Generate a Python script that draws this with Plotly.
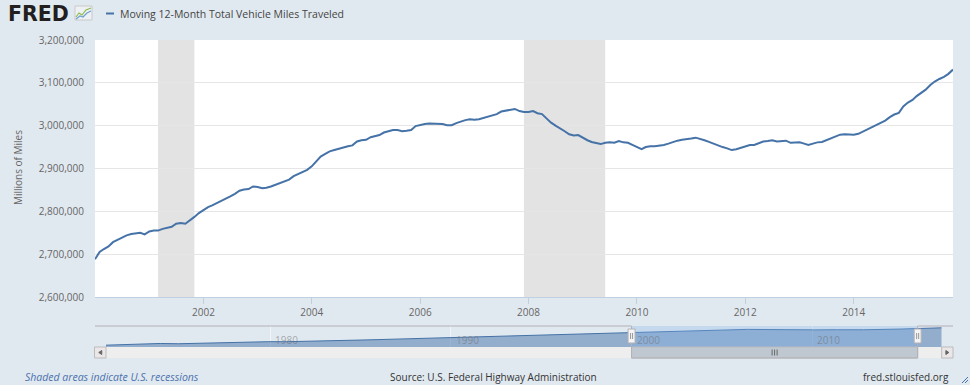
import plotly.graph_objects as go
import pandas as pd

# ---------------- data ----------------
series_start = "2000-01-01"
# Moving 12-month total vehicle miles traveled (millions of miles), monthly from Jan 2000
vmt = [
    2688000, 2705000, 2712000, 2718000, 2728000, 2733000, 2738000, 2744000, 2747000, 2749000, 2750000, 2746000,  # 2000
    2753000, 2755000, 2755000, 2759000, 2762000, 2764000, 2771000, 2773000, 2771000, 2778000, 2787000, 2796000,  # 2001
    2804000, 2810000, 2814000, 2819000, 2825000, 2830000, 2835000, 2841000, 2848000, 2851000, 2852000, 2858000,  # 2002
    2857000, 2854000, 2855000, 2858000, 2862000, 2867000, 2871000, 2874000, 2882000, 2887000, 2891000, 2897000,  # 2003
    2905000, 2916000, 2928000, 2934000, 2940000, 2943000, 2946000, 2950000, 2952000, 2954000, 2963000, 2966000,  # 2004
    2967000, 2973000, 2975000, 2978000, 2984000, 2988000, 2990000, 2990000, 2987000, 2988000, 2990000, 2999000,  # 2005
    3002000, 3004000, 3005000, 3005000, 3005000, 3004000, 3001000, 3001000, 3006000, 3010000, 3013000, 3015000,  # 2006
    3014000, 3015000, 3018000, 3021000, 3025000, 3027000, 3033000, 3035000, 3037000, 3039000, 3034000, 3032000,  # 2007
    3032000, 3034000, 3029000, 3027000, 3017000, 3007000, 3000000, 2994000, 2987000, 2980000, 2977000, 2978000,  # 2008
    2971000, 2966000, 2962000, 2959000, 2957000, 2960000, 2961000, 2960000, 2964000, 2961000, 2960000, 2955000,  # 2009
    2950000, 2945000, 2950000, 2952000, 2952000, 2953000, 2955000, 2958000, 2962000, 2965000, 2967000, 2968000,  # 2010
    2970000, 2972000, 2970000, 2966000, 2962000, 2958000, 2953000, 2950000, 2947000, 2943000, 2945000, 2948000,  # 2011
    2952000, 2955000, 2955000, 2959000, 2963000, 2964000, 2966000, 2963000, 2964000, 2965000, 2960000, 2961000,  # 2012
    2961000, 2958000, 2955000, 2958000, 2961000, 2962000, 2966000, 2970000, 2976000, 2979000, 2980000, 2979000,  # 2013
    2979000, 2981000, 2986000, 2990000, 2995000, 3001000, 3007000, 3012000, 3020000, 3026000, 3030000, 3045000,  # 2014
    3054000, 3060000, 3069000, 3077000, 3084000, 3095000, 3103000, 3109000, 3114000, 3121000, 3131000,           # 2015
]

# navigator history (December values), read roughly from the navigator strip
hist_years = [1970, 1971, 1972, 1973, 1974, 1975, 1976, 1977, 1978, 1979,
              1980, 1981, 1982, 1983, 1984, 1985, 1986, 1987, 1988, 1989,
              1990, 1991, 1992, 1993, 1994, 1995, 1996, 1997, 1998, 1999]
hist_vmt = [1110000, 1179000, 1260000, 1313000, 1281000, 1328000, 1402000, 1467000, 1545000, 1529000,
            1527000, 1555000, 1595000, 1653000, 1720000, 1774000, 1834000, 1921000, 2025000, 2096000,
            2144000, 2172000, 2247000, 2296000, 2358000, 2423000, 2486000, 2562000, 2632000, 2686000]
ext_dates = ["2015-12-01", "2016-06-01", "2016-12-01", "2017-03-01"]
ext_vmt = [3136000, 3170000, 3187000, 3194000]

rec_start = ["2001-03-01", "2007-12-01"]
rec_end = ["2001-11-01", "2009-06-01"]

y_ticks = [2600000, 2700000, 2800000, 2900000, 3000000, 3100000, 3200000]
x_tick_years = [2002, 2004, 2006, 2008, 2010, 2012, 2014]
nav_label_years = [1980, 1990, 2000, 2010]

series_name = "Moving 12-Month Total Vehicle Miles Traveled"

# ---------------- geometry helpers ----------------
W, H = 970, 385
ML, MR, MT, MB = 95, 17, 40, 27
PW = W - ML - MR
PH = H - MT - MB


def px_x(px):
    return (px - ML) / PW


def px_y(py):
    return (H - MB - py) / PH


dates = pd.date_range(series_start, periods=len(vmt), freq="MS")
hist_dates = [pd.Timestamp(f"{y}-12-01") for y in hist_years]
nav_dates = hist_dates + list(dates) + [pd.Timestamp(d) for d in ext_dates]
nav_vals = hist_vmt + vmt + ext_vmt

NAV_L, NAV_R = 106, 941.7
nav_t0, nav_t1 = nav_dates[0], nav_dates[-1]


def nav_px(d):
    d = pd.Timestamp(d)
    return NAV_L + (d - nav_t0) / (nav_t1 - nav_t0) * (NAV_R - NAV_L)


sel0, sel1 = dates[0], dates[-1]
h0, h1 = nav_px(sel0), nav_px(sel1)

BG = "#e1e9f0"
LINE = "#4572a7"
FONT = "Open Sans"

fig = go.Figure()

fig.add_trace(go.Scatter(
    x=dates, y=vmt, mode="lines", name=series_name,
    line=dict(color=LINE, width=2), xaxis="x", yaxis="y", showlegend=False,
))
fig.add_trace(go.Scatter(
    x=nav_dates, y=nav_vals, mode="lines", fill="tozeroy",
    fillcolor="rgba(69,114,167,0.5)", line=dict(color=LINE, width=1),
    xaxis="x2", yaxis="y2", showlegend=False, hoverinfo="skip",
))

shapes = []
# white main plot area
shapes.append(dict(type="rect", xref="x domain", yref="y domain", x0=0, x1=1, y0=0, y1=1,
                   fillcolor="white", line=dict(width=0), layer="below"))
for s, e in zip(rec_start, rec_end):
    shapes.append(dict(type="rect", xref="x", yref="y domain", x0=s, x1=e, y0=0, y1=1,
                       fillcolor="#e3e3e3", line=dict(width=0), layer="below"))

# navigator mask over selected range
shapes.append(dict(type="rect", xref="x2", yref="y2 domain", x0=sel0, x1=sel1, y0=0, y1=1,
                   fillcolor="rgba(128,179,236,0.3)", line=dict(width=0), layer="above"))

# scrollbar track
shapes.append(dict(type="rect", xref="paper", yref="paper", x0=px_x(NAV_L), x1=px_x(NAV_R),
                   y0=px_y(358), y1=px_y(347), fillcolor="#eeeeee", line=dict(width=0)))
# scrollbar thumb
shapes.append(dict(type="rect", xref="paper", yref="paper", x0=px_x(h0), x1=px_x(h1),
                   y0=px_y(358), y1=px_y(347), fillcolor="#bfc8d1", line=dict(color="#bbbbbb", width=1)))
mid = (h0 + h1) / 2
for dx in (-2.5, 0, 2.5):
    shapes.append(dict(type="line", xref="paper", yref="paper", x0=px_x(mid + dx), x1=px_x(mid + dx),
                       y0=px_y(355.5), y1=px_y(349.5), line=dict(color="#666666", width=1)))
# scrollbar buttons
for bx0, bx1, pts in ((94.5, 106, "L"), (NAV_R, 953, "R")):
    shapes.append(dict(type="rect", xref="paper", yref="paper", x0=px_x(bx0), x1=px_x(bx1),
                       y0=px_y(358), y1=px_y(347), fillcolor="#ebe7e8", line=dict(color="#bbbbbb", width=1)))
    cx = (bx0 + bx1) / 2
    if pts == "L":
        path = f"M {px_x(cx + 1.5)},{px_y(350.5)} L {px_x(cx - 1.5)},{px_y(352.5)} L {px_x(cx + 1.5)},{px_y(354.5)} Z"
    else:
        path = f"M {px_x(cx - 1.5)},{px_y(350.5)} L {px_x(cx + 1.5)},{px_y(352.5)} L {px_x(cx - 1.5)},{px_y(354.5)} Z"
    shapes.append(dict(type="path", xref="paper", yref="paper", path=path,
                       fillcolor="#666666", line=dict(color="#666666", width=1)))

# navigator outline
outline = (f"M {px_x(95)},{px_y(326)} L {px_x(h0)},{px_y(326)} L {px_x(h0)},{px_y(358)} "
           f"L {px_x(h1)},{px_y(358)} L {px_x(h1)},{px_y(326)} L {px_x(953)},{px_y(326)}")
shapes.append(dict(type="path", xref="paper", yref="paper", path=outline,
                   line=dict(color="#b2b1b6", width=1)))

# handles
for hx in (h0, h1):
    shapes.append(dict(type="rect", xref="paper", yref="paper", x0=px_x(hx - 3.5), x1=px_x(hx + 3.5),
                       y0=px_y(343), y1=px_y(329), fillcolor="#f4f4f4", line=dict(color="#b2b1b6", width=1)))
    for dx in (-1, 1):
        shapes.append(dict(type="line", xref="paper", yref="paper", x0=px_x(hx + dx), x1=px_x(hx + dx),
                           y0=px_y(339), y1=px_y(333), line=dict(color="#999999", width=1)))

# legend marker
shapes.append(dict(type="line", xref="paper", yref="paper", x0=px_x(106), x1=px_x(114),
                   y0=px_y(13.5), y1=px_y(13.5), line=dict(color=LINE, width=2)))

# FRED icon
shapes.append(dict(type="rect", xref="paper", yref="paper", x0=px_x(75), x1=px_x(92),
                   y0=px_y(20), y1=px_y(6), fillcolor="#eef1f3", line=dict(color="#c9c9c9", width=1)))
shapes.append(dict(type="path", xref="paper", yref="paper",
                   path=f"M {px_x(76)},{px_y(17)} L {px_x(79)},{px_y(13)} L {px_x(82)},{px_y(15)} L {px_x(86)},{px_y(10)} L {px_x(91)},{px_y(8)}",
                   line=dict(color="#8dbb4f", width=1.2)))
shapes.append(dict(type="path", xref="paper", yref="paper",
                   path=f"M {px_x(76)},{px_y(19)} L {px_x(80)},{px_y(16)} L {px_x(83)},{px_y(17)} L {px_x(87)},{px_y(13)} L {px_x(91)},{px_y(11)}",
                   line=dict(color="#6f9fd2", width=1.2)))

# resize glyph bottom right
for k in (0, 3):
    shapes.append(dict(type="line", xref="paper", yref="paper", x0=px_x(962 + k), x1=px_x(968),
                       y0=px_y(383), y1=px_y(377 + k), line=dict(color=LINE, width=1)))

annotations = []
annotations.append(dict(text="<b>FRED</b>", xref="paper", yref="paper", x=px_x(6), y=px_y(14),
                        xanchor="left", yanchor="middle", showarrow=False,
                        font=dict(family="DejaVu Sans", size=20.5, color="#231f20")))
annotations.append(dict(text=series_name, xref="paper", yref="paper", x=px_x(118), y=px_y(13.5),
                        xanchor="left", yanchor="middle", showarrow=False,
                        font=dict(family=FONT, size=10.5, color="#444444")))
annotations.append(dict(text="Millions of Miles", xref="paper", yref="paper", x=px_x(18), y=px_y(168),
                        xanchor="center", yanchor="middle", textangle=-90, showarrow=False,
                        font=dict(family=FONT, size=10, color="#666666")))
for yr in nav_label_years:
    annotations.append(dict(text=str(yr), xref="x2", yref="paper", x=f"{yr}-01-01", y=px_y(340),
                            xanchor="left", yanchor="middle", xshift=3, showarrow=False,
                            font=dict(family=FONT, size=10, color="rgba(110,110,110,0.55)")))
annotations.append(dict(text="<i>Shaded areas indicate U.S. recessions</i>", xref="paper", yref="paper",
                        x=px_x(23), y=px_y(377), xanchor="left", yanchor="middle", showarrow=False,
                        font=dict(family=FONT, size=10.5, color="#4a72ad")))
annotations.append(dict(text="Source: U.S. Federal Highway Administration", xref="paper", yref="paper",
                        x=px_x(493.5), y=px_y(377), xanchor="center", yanchor="middle", showarrow=False,
                        font=dict(family=FONT, size=10, color="#333333")))
annotations.append(dict(text="fred.stlouisfed.org", xref="paper", yref="paper",
                        x=px_x(951), y=px_y(377), xanchor="right", yanchor="middle", showarrow=False,
                        font=dict(family=FONT, size=10, color="#333333")))

fig.update_layout(
    width=W, height=H,
    margin=dict(l=ML, r=MR, t=MT, b=MB, pad=0),
    paper_bgcolor=BG, plot_bgcolor=BG,
    font=dict(family=FONT, size=10, color="#666666"),
    showlegend=False,
    shapes=shapes,
    annotations=annotations,
    xaxis=dict(
        type="date", range=[dates[0], dates[-1]], domain=[0, 1], anchor="y",
        tickvals=[f"{y}-01-01" for y in x_tick_years], ticktext=[str(y) for y in x_tick_years],
        showgrid=False, zeroline=False,
        showline=True, linecolor="#c0d0e0", linewidth=1,
        ticks="outside", ticklen=6, tickcolor="#c0d0e0",
        tickfont=dict(family=FONT, size=10, color="#666666"),
    ),
    yaxis=dict(
        range=[y_ticks[0], y_ticks[-1]], domain=[px_y(297), 1], anchor="x",
        tickvals=y_ticks, tickformat=",d",
        showgrid=True, gridcolor="#e6e6e6", gridwidth=1,
        zeroline=False, showline=False, ticks="",
        ticklabelstandoff=10,
        tickfont=dict(family=FONT, size=10, color="#666666"),
    ),
    xaxis2=dict(
        type="date", range=[nav_t0, nav_t1], domain=[px_x(NAV_L), px_x(NAV_R)], anchor="y2",
        tickvals=[f"{y}-01-01" for y in nav_label_years], showticklabels=False,
        showgrid=True, gridcolor="rgba(255,255,255,0.55)", zeroline=False, showline=False, ticks="",
    ),
    yaxis2=dict(
        range=[890000, 3410000], domain=[px_y(347), px_y(326)], anchor="x2",
        visible=False, showgrid=False, zeroline=False,
    ),
)

fig.write_html(
    "out.html",
    config={"displayModeBar": False},
    post_script="document.body.style.margin='0';document.body.style.overflow='hidden';",
)
